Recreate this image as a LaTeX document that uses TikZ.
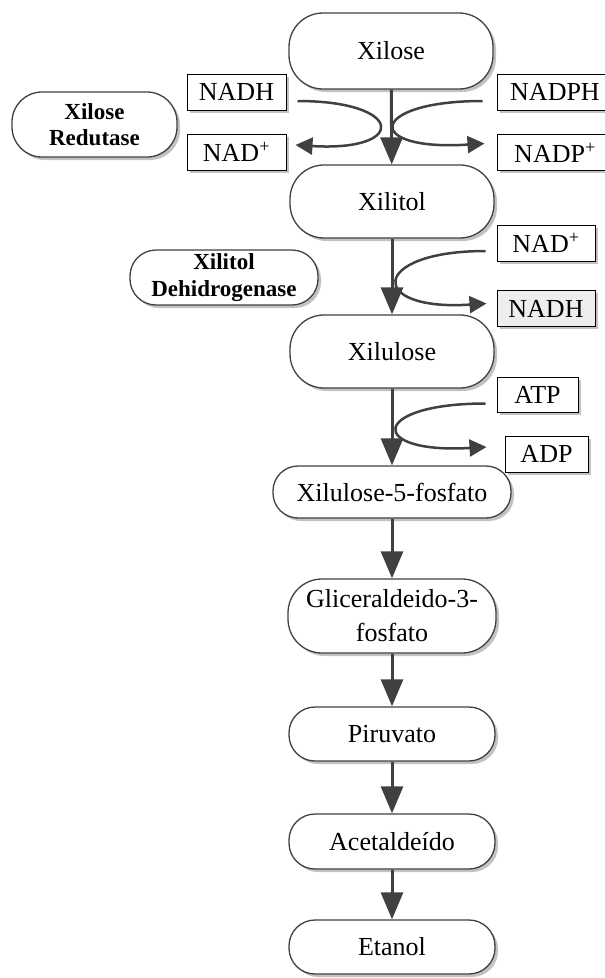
\documentclass[tikz,border=0pt]{standalone}
\usepackage{fontspec}
\setmainfont{Liberation Serif}
\usetikzlibrary{arrows.meta,shadows}
\definecolor{linegray}{HTML}{404040}
\definecolor{boxgray}{HTML}{EEEEEE}
\begin{document}
\begin{tikzpicture}[x=1pt, y=-1pt, font=\fontsize{26}{34}\selectfont,
    pill/.style = {draw=linegray, line width=1.3pt, fill=white, rounded corners=#1, align=center, drop shadow={shadow xshift=3pt, shadow yshift=-3pt, fill=black!40, opacity=0.6}},
    pill/.default = 26pt,
    enzyme/.style = {pill=#1, font=\fontsize{23}{26.5}\selectfont\bfseries},
    enzyme/.default = 26pt,
    cofac/.style = {draw=black, line width=1pt, fill=white, minimum height=36, inner sep=0pt, drop shadow={shadow xshift=2.5pt, shadow yshift=-2.5pt, fill=black!40, opacity=0.6}},
    flow/.style = {draw=linegray, line width=3pt, -{Triangle[length=27pt, width=22pt]}},
    turn/.style = {draw=linegray, line width=2.5pt, -{Triangle[length=17pt, width=17pt]}}]
\useasboundingbox (0,0) rectangle (605,978);
\node[pill=34pt, minimum width=204, minimum height=76] (xil) at (391,51) {Xilose};
\node[pill=34pt, minimum width=204, minimum height=73] (xit) at (392,201.5) {Xilitol};
\node[pill=34pt, minimum width=204, minimum height=73] (xul) at (392,351.5) {Xilulose};
\node[pill=25pt, minimum width=238, minimum height=52] (x5p) at (392,492) {Xilulose-5-fosfato};
\node[pill=34pt, minimum width=208, minimum height=74] (gli) at (392,616) {Gliceraldeido-3-\\fosfato};
\node[pill, minimum width=206, minimum height=54] (pir) at (392,734) {Piruvato};
\node[pill, minimum width=206, minimum height=55] (ace) at (392,841.5) {Acetaldeído};
\node[pill, minimum width=206, minimum height=54] (eta) at (392,947) {Etanol};
\node[enzyme=30pt, minimum width=165, minimum height=65] (red) at (94.5,124.5) {Xilose\\Redutase};
\node[enzyme=26pt, minimum width=188, minimum height=55] (dhg) at (224,277.5) {Xilitol\\Dehidrogenase};
\node[cofac, minimum width=99] (nadha) at (236.5,92) {NADH};
\node[cofac, minimum width=99] (nada) at (236.5,152) {NAD\textsuperscript{+}};
\node[cofac, minimum width=116] (nadph) at (555,92) {NADPH};
\node[cofac, minimum width=116] (nadp) at (555,152.5) {NADP\textsuperscript{+}};
\node[cofac, minimum width=98] (nadb) at (546,243) {NAD\textsuperscript{+}};
\node[cofac, minimum width=98, fill=boxgray] (nadhb) at (546,308.5) {NADH};
\node[cofac, minimum width=81, minimum height=35] (atp) at (537.5,394.5) {ATP};
\node[cofac, minimum width=83] (adp) at (546.5,454) {ADP};
\draw[flow] (xil) -- (xit);
\draw[flow] (xit) -- (xul);
\draw[flow] (xul) -- (x5p);
\draw[flow] (x5p) -- (gli);
\draw[flow] (gli) -- (pir);
\draw[flow] (pir) -- (ace);
\draw[flow] (ace) -- (eta);
\draw[turn] ([xshift=11pt, yshift=-9pt]nadha.east) .. controls +(108,0) and +(112,7) .. ([xshift=9pt, yshift=7pt]nada.east);
\draw[turn] ([xshift=-14pt, yshift=-9pt]nadph.west) .. controls +(-115,0) and +(-122,8) .. ([xshift=-12pt, yshift=9pt]nadp.west);
\draw[turn] ([xshift=-11pt, yshift=-8pt]nadb.west) .. controls +(-116,0) and +(-120,8) .. ([xshift=-10pt, yshift=5pt]nadhb.west);
\draw[turn] ([xshift=-11pt, yshift=-9pt]atp.west) .. controls +(-116,0) and +(-120,7) .. ([xshift=-18pt, yshift=7pt]adp.west);
\end{tikzpicture}
\end{document}
